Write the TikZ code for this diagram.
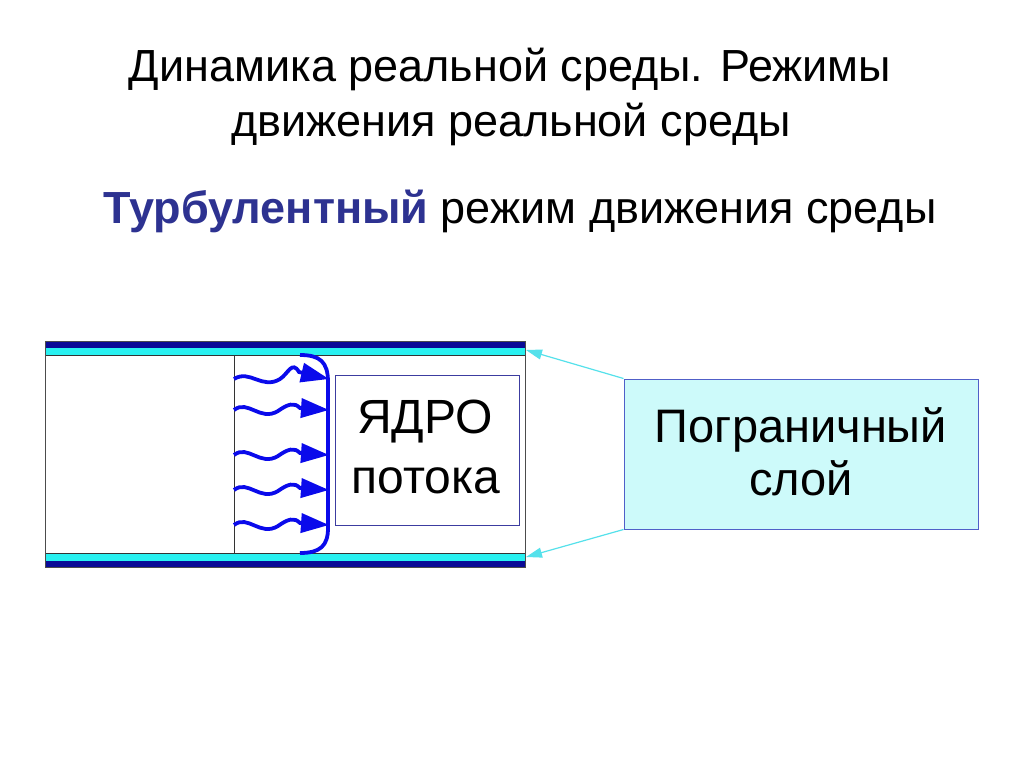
\documentclass[tikz,border=0pt]{standalone}
\usepackage{fontspec}
\setmainfont{Liberation Sans}
\usetikzlibrary{arrows.meta,calc}
\definecolor{navy}{RGB}{10,10,150}
\definecolor{cyanband}{RGB}{40,240,240}
\definecolor{flowblue}{RGB}{10,10,235}
\definecolor{corebord}{RGB}{60,60,160}
\definecolor{layerfill}{RGB}{205,250,250}
\definecolor{layerbord}{RGB}{80,95,200}
\definecolor{callout}{RGB}{85,225,235}
\definecolor{subblue}{RGB}{45,50,145}
\tikzset{
  wave/.style={draw=flowblue,line width=3.8pt,-{Triangle[length=28pt,width=19pt]}},
  bracket/.style={draw=flowblue,line width=3.8pt},
  corebox/.style={draw=corebord,line width=0.8pt,fill=white,minimum width=184pt,minimum height=150pt,inner sep=0pt},
  layerbox/.style={draw=layerbord,line width=1pt,fill=layerfill,minimum width=354pt,minimum height=150pt,inner sep=0pt},
  boxtext/.style={font=\fontsize{48}{60}\selectfont,anchor=base},
  titlefont/.style={font=\fontsize{45}{55}\selectfont,anchor=base},
}
\begin{document}
\begin{tikzpicture}[x=1pt,y=-1pt]
\useasboundingbox[fill=white] (0,0) rectangle (1024,767);
% titles
\node[titlefont] (title1) at (510,82) {Динамика реальной среды. Режимы};
\node[titlefont] (title2) at (511,137) {движения реальной среды};
\node[titlefont] (sub) at (520,224) {\textcolor{subblue}{\bfseries Турбулентный} режим движения среды};
% pipe
\fill[navy] (45,341) rectangle (525,347.5);
\fill[cyanband] (45,347.5) rectangle (525,355);
\fill[cyanband] (45,553) rectangle (525,560.5);
\fill[navy] (45,560.5) rectangle (525,567);
\draw[black!80,line width=0.8pt] (45,355) -- (525,355);
\draw[black!80,line width=0.8pt] (45,553) -- (525,553);
\draw[black!70,line width=1pt] (45,341) rectangle (525,567);
\draw[black!80,line width=0.9pt] (234,355) -- (234,553);
% core
\node[corebox] (core) at (427,450) {};
\node[boxtext] (coret1) at (425,433) {ЯДРО};
\node[boxtext] (coret2) at (426,493) {потока};
% bracket
\draw[bracket] (300,355) .. controls (320,355) and (328,362) .. (328,382) -- (328,528) .. controls (328,546) and (320,553) .. (300,553);
% wavy arrows
\foreach \i/\y in {1/379,2/410,3/455,4/490,5/525}{
  \coordinate (s\i) at (234,\y);
  \coordinate (e\i) at (329,\y);
}
\draw[wave] (s1) .. controls (250,369) and (262,390) .. (280,379) .. controls (288,374) and (292,360) .. (299,372) -- (e1);
\foreach \i in {2,3,4,5}{
  \draw[wave] (s\i) .. controls ($(s\i)+(14,-11)$) and ($(s\i)+(26,12)$) .. ($(s\i)+(44,1)$) .. controls ($(s\i)+(54,-6)$) and ($(s\i)+(60,-8)$) .. ($(s\i)+(66,-2)$) -- (e\i);
}
% boundary layer box
\node[layerbox] (layer) at (801,454) {};
\node[font=\fontsize{47}{53}\selectfont,anchor=base] (layert1) at (801,442) {Пограничный};
\node[font=\fontsize{47}{53}\selectfont,anchor=base] (layert2) at (801,495) {слой};
\coordinate (ptop) at (526,350);
\coordinate (pbot) at (526,557);
\draw[draw=callout,line width=1.2pt,-{Triangle[length=16pt,width=10pt]}] (layer.north west) -- (ptop);
\draw[draw=callout,line width=1.2pt,-{Triangle[length=16pt,width=10pt]}] (layer.south west) -- (pbot);
\end{tikzpicture}
\end{document}
